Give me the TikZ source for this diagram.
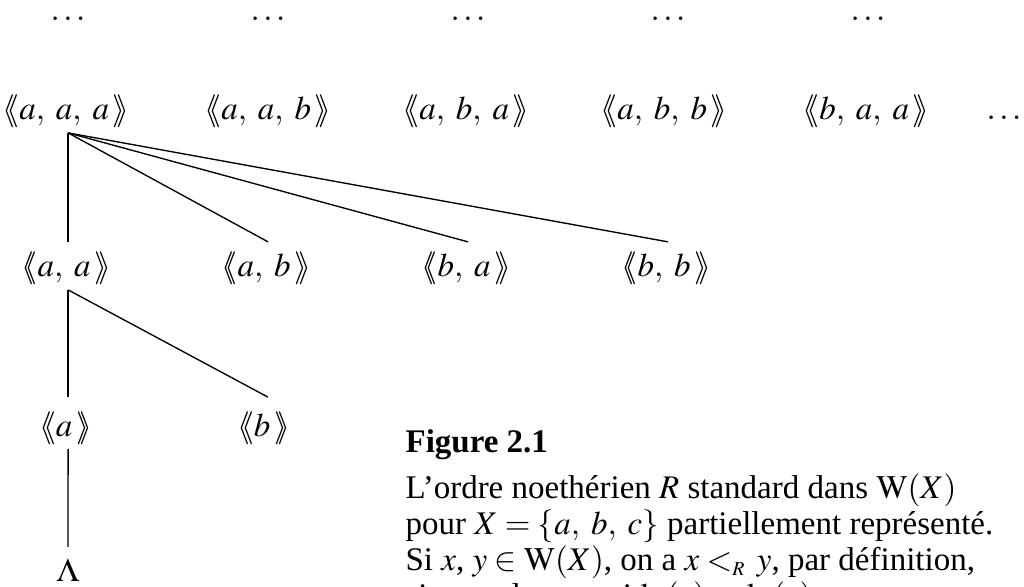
\documentclass[tikz,border=0pt]{standalone}
\usepackage{mathptmx}
\usepackage[no-math]{fontspec}
\setmainfont{Liberation Serif}
\usepackage{tikz}
\usetikzlibrary{positioning}
\newcommand{\mot}[1]{\langle\mkern-5mu\langle #1\,\rangle\mkern-5mu\rangle}

\begin{document}
\begin{tikzpicture}[x=0.3333pt,y=-0.3333pt,font=\fontsize{11}{10.7}\selectfont]
\tikzset{w/.style={inner sep=0pt,anchor=base}, e/.style={line width=0.45pt}}
\useasboundingbox (0,0) rectangle (1024,587);
\node[w] (d1) at (68,21) {$\ldots$};
\node[w] (d2) at (268,21) {$\ldots$};
\node[w] (d3) at (468,21) {$\ldots$};
\node[w] (d4) at (668,21) {$\ldots$};
\node[w] (d5) at (868,21) {$\ldots$};
\node[w] (aaa) at (66,120) {$\mot{a,\; a,\; a}$};
\node[w] (aab) at (268,120) {$\mot{a,\; a,\; b}$};
\node[w] (aba) at (466,120) {$\mot{a,\; b,\; a}$};
\node[w] (abb) at (664,120) {$\mot{a,\; b,\; b}$};
\node[w] (baa) at (866,120) {$\mot{b,\; a,\; a}$};
\node[w] (dn) at (1004,120) {$\ldots$};
\node[w] (aa) at (66,277) {$\mot{a,\; a}$};
\node[w] (ab) at (266,277) {$\mot{a,\; b}$};
\node[w] (ba) at (466,277) {$\mot{b,\; a}$};
\node[w] (bb) at (666,277) {$\mot{b,\; b}$};
\node[w] (a) at (66,437) {$\mot{a}$};
\node[w] (b) at (264,437) {$\mot{b}$};
\node[w] (lam) at (68,582) {$\Lambda$};
\draw[e] ([xshift=0.7pt,yshift=-4.3pt]aaa.base) -- ([xshift=0.7pt,yshift=11.7pt]aa.base);
\draw[e] ([xshift=0.7pt,yshift=-4.3pt]aaa.base) -- ([xshift=0.7pt,yshift=11.7pt]ab.base);
\draw[e] ([xshift=0.7pt,yshift=-4.3pt]aaa.base) -- ([xshift=0.7pt,yshift=11.7pt]ba.base);
\draw[e] ([xshift=0.7pt,yshift=-4.3pt]aaa.base) -- ([xshift=0.7pt,yshift=11.7pt]bb.base);
\draw[e] ([xshift=0.7pt,yshift=-4.3pt]aa.base) -- ([xshift=0.7pt,yshift=13.3pt]a.base);
\draw[e] ([xshift=0.7pt,yshift=-4.3pt]aa.base) -- ([xshift=1.3pt,yshift=13.3pt]b.base);
\draw[e] ([xshift=0.7pt,yshift=-4pt]a.base) -- ([yshift=11.7pt]lam.base);
\node[anchor=north west,align=left,inner sep=0pt] (cap) at (405,429) {\textbf{Figure 2.1}\\[4.7pt]
L’ordre noethérien $R$ standard dans $\mathrm{W}(X)$\\
pour $X = \{a,\; b,\; c\}$ partiellement représenté.\\
Si $x$, $y \in \mathrm{W}(X)$, on a $x <_{\scriptscriptstyle R}\, y$, par définition,\\
si et seulement si $\lg(x) < \lg(y)$};
\end{tikzpicture}
\end{document}
